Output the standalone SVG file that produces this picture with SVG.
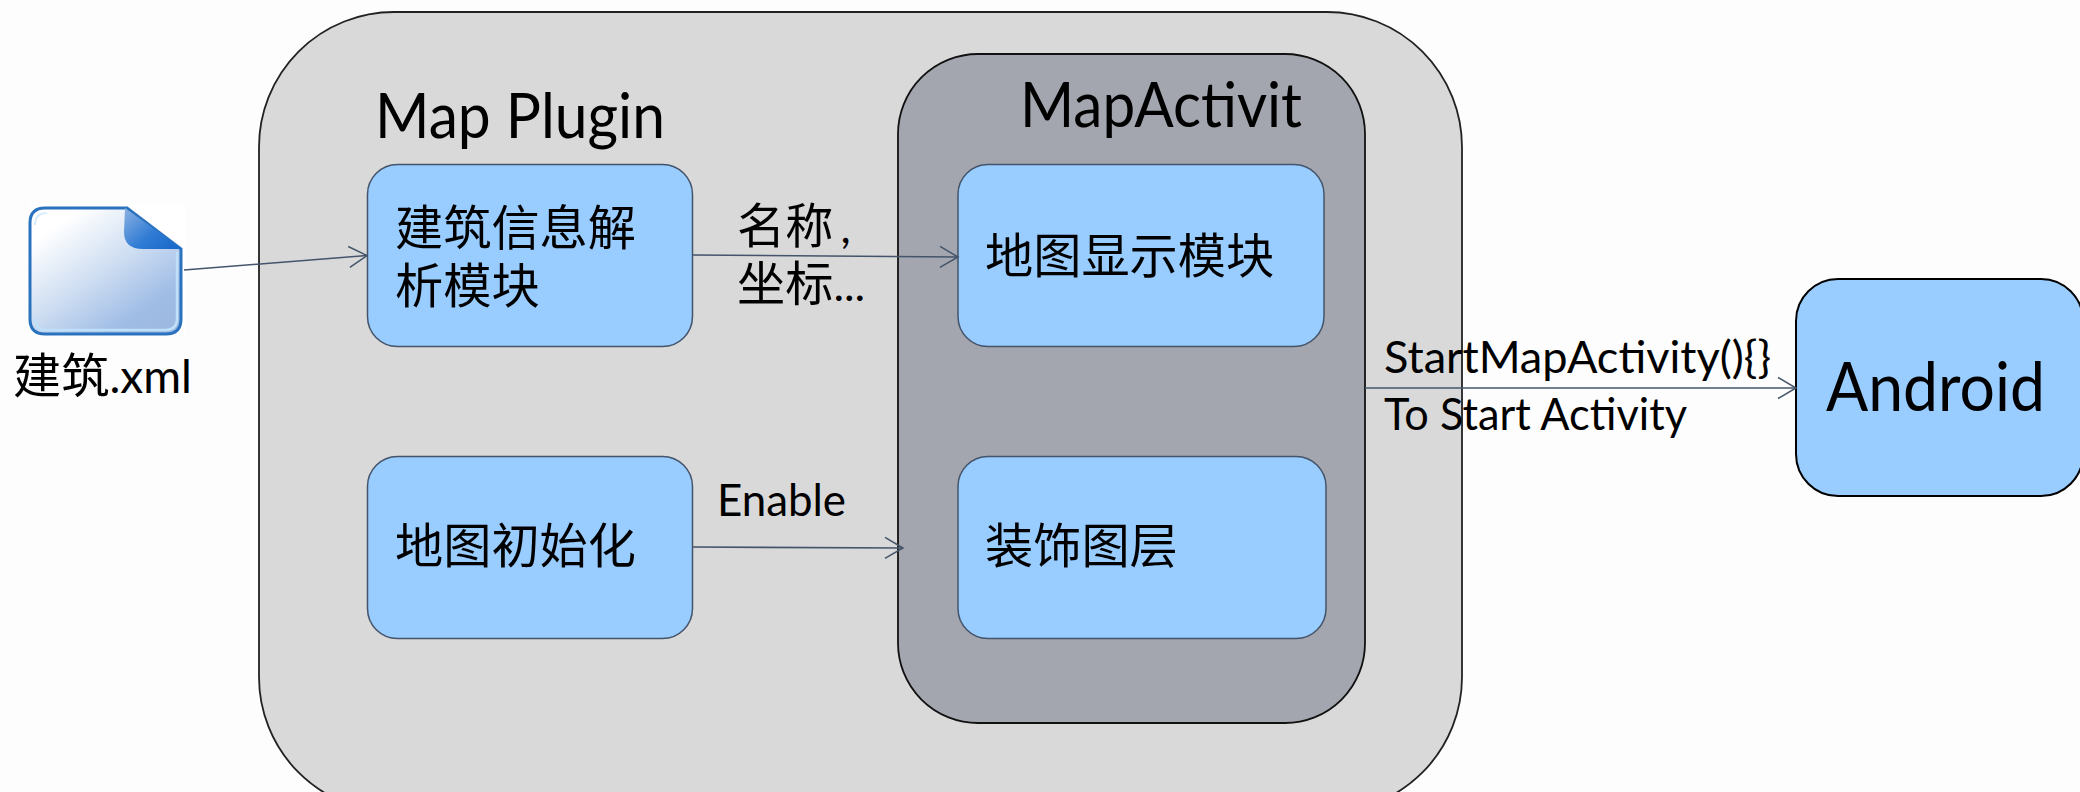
<svg xmlns="http://www.w3.org/2000/svg" width="2080" height="792" viewBox="0 0 2080 792">
<style>
text{font-family:"Lato",sans-serif;fill:#000}
.cjk{font-family:"Noto Sans CJK SC",sans-serif;font-size:48.200px}
.box{fill:#99ccff;stroke:#44546a;stroke-width:1.5}
.conn{fill:none;stroke:#44546a;stroke-width:1.6;marker-end:url(#open)}
.l{font-size:45px}
</style>
<defs>
<marker id="open" markerUnits="userSpaceOnUse" markerWidth="24" markerHeight="28" refX="19" refY="12" orient="auto" overflow="visible">
<path d="M1 1.500L19 12L1 22.500" fill="none" stroke="#44546a" stroke-width="1.500"/>
</marker>
<linearGradient id="paper" x1="0.100" y1="0.050" x2="0.850" y2="0.950">
<stop offset="0.100" stop-color="#ffffff"/><stop offset="0.500" stop-color="#cfdef2"/><stop offset="0.850" stop-color="#a0bde6"/><stop offset="1" stop-color="#9db9e2"/>
</linearGradient>
<linearGradient id="fold" x1="0" y1="0" x2="1" y2="0.800">
<stop offset="0" stop-color="#8cb2e2"/><stop offset="0.600" stop-color="#2f7bd4"/><stop offset="1" stop-color="#1a6acb"/>
</linearGradient>
</defs>
<rect width="2080" height="792" fill="#fdfdfd"/>
<g id="map-plugin">
<rect x="259" y="12" width="1203" height="800" rx="135" ry="135" fill="#d9d9d9" stroke="#222" stroke-width="1.800"/>
<text x="375" y="138" font-size="62" textLength="290" lengthAdjust="spacingAndGlyphs">Map Plugin</text>
</g>
<g id="map-activity">
<rect x="898" y="54" width="467" height="669" rx="80" ry="80" fill="#a3a6ae" stroke="#111" stroke-width="1.800"/>
<text x="1020" y="127" font-size="62" textLength="282" lengthAdjust="spacingAndGlyphs">MapActivit</text>
</g>
<g id="file-icon">
<rect x="29" y="203" width="156" height="134" fill="#fff"/>
<path d="M45 208H127L181 249V319Q181 334 166 334H45Q30 334 30 319V223Q30 208 45 208Z" fill="url(#paper)" stroke="#2a72bd" stroke-width="3"/>
<path d="M35 225Q35 213 47 213" fill="none" stroke="#d8ecfb" stroke-width="2"/>
<path d="M35 318Q35 330 47 330H165Q177 330 177 318V252" fill="none" stroke="#bfe0f8" stroke-width="2.500"/>
<path d="M125 208L182 249H143Q124 249 124 232Z" fill="url(#fold)"/>
<text x="13" y="393"><tspan class="cjk">建筑</tspan><tspan font-size="46">.xml</tspan></text>
</g>
<g id="parse-module">
<rect class="box" x="367.500" y="164.500" width="325" height="182" rx="30" ry="30"/>
<text class="cjk" x="395" y="245">建筑信息解<tspan x="395" y="303">析模块</tspan></text>
</g>
<g id="map-init">
<rect class="box" x="367.500" y="456.500" width="325" height="182" rx="30" ry="30"/>
<text class="cjk" x="395" y="563">地图初始化</text>
</g>
<g id="map-display">
<rect class="box" x="958" y="164.500" width="366" height="182" rx="30" ry="30"/>
<text class="cjk" x="985" y="273">地图显示模块</text>
</g>
<g id="decor-layer">
<rect class="box" x="958" y="456.500" width="368" height="182" rx="30" ry="30"/>
<text class="cjk" x="985" y="563">装饰图层</text>
</g>
<g id="android">
<rect x="1796" y="279" width="287" height="217" rx="42" ry="42" fill="#99ccff" stroke="#000" stroke-width="2"/>
<text x="1826" y="411" font-size="68" textLength="219" lengthAdjust="spacingAndGlyphs">Android</text>
</g>
<g id="connectors">
<path class="conn" d="M184 270L367 255.500"/>
<path class="conn" d="M693 255L958 257"/>
<path class="conn" d="M693 547L903 548"/>
<path class="conn" d="M1365 388H1796"/>
</g>
<g id="labels">
<text x="737" y="243"><tspan class="cjk">名称</tspan><tspan dx="7" font-size="45">,</tspan><tspan class="cjk" x="737" y="301">坐标</tspan><tspan font-size="45" y="301">...</tspan></text>
<text class="l" x="717" y="516" textLength="129" lengthAdjust="spacingAndGlyphs">Enable</text>
<text class="l" x="1384" y="372.500" textLength="387" lengthAdjust="spacingAndGlyphs">StartMapActivity(){}</text>
<text class="l" x="1384" y="429.500" textLength="303" lengthAdjust="spacingAndGlyphs">To Start Activity</text>
</g>
</svg>
